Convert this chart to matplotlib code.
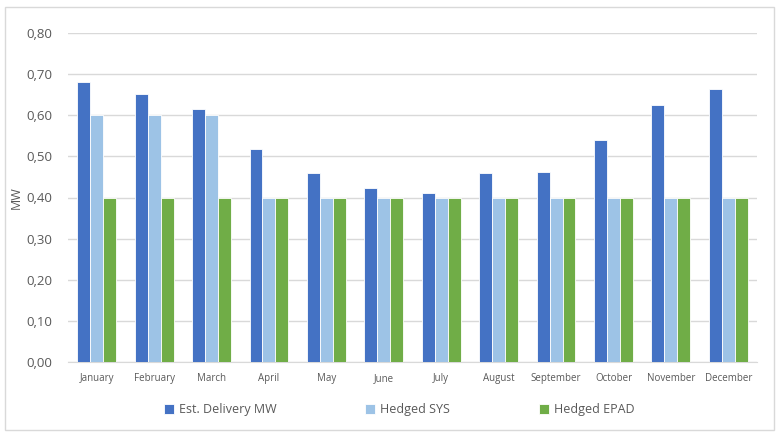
import matplotlib
matplotlib.use("Agg")
import matplotlib.pyplot as plt
import numpy as np
from matplotlib.patches import Rectangle
from matplotlib.ticker import FuncFormatter

months = ["January", "February", "March", "April", "May", "June", "July",
          "August", "September", "October", "November", "December"]
est_delivery = [0.681, 0.652, 0.614, 0.517, 0.459, 0.423, 0.412, 0.459, 0.461, 0.541, 0.625, 0.664]
hedged_sys = [0.60, 0.60, 0.60, 0.40, 0.40, 0.40, 0.40, 0.40, 0.40, 0.40, 0.40, 0.40]
hedged_epad = [0.40] * 12
series_names = ["Est. Delivery MW", "Hedged SYS", "Hedged EPAD"]
colors = ["#4472C4", "#9DC3E6", "#70AD47"]

plt.rcParams['font.family'] = ['Open Sans', 'DejaVu Sans']
text_color = "#595959"

fig = plt.figure(figsize=(7.79, 4.33), dpi=100)
W, H = 779, 433
ax = fig.add_axes([68 / W, 1 - 362 / H, (757 - 68) / W, (362 - 33) / H])

x = np.arange(len(months))
bw = 0.225
for i, (vals, name, c) in enumerate(zip([est_delivery, hedged_sys, hedged_epad], series_names, colors)):
    ax.bar(x + (i - 1) * bw, vals, width=bw, color=c, label=name,
           edgecolor="white", linewidth=0.6, zorder=3)

ax.set_xlim(-0.5, 11.5)
ax.set_ylim(0, 0.8)
ax.set_yticks(np.arange(0, 0.81, 0.1))
ax.yaxis.set_major_formatter(FuncFormatter(lambda v, p: f"{v:.2f}".replace(".", ",")))
ax.set_xticks(x)
ax.set_xticklabels(months, fontsize=7, color=text_color)
ax.tick_params(axis='y', labelsize=9.5, labelcolor=text_color, length=0, pad=11)
ax.tick_params(axis='x', length=0, pad=8)
ax.grid(axis='y', color="#D9D9D9", linewidth=1, zorder=0)
for s in ["top", "right", "left"]:
    ax.spines[s].set_visible(False)
ax.spines["bottom"].set_color("#D9D9D9")
ax.set_ylabel("MW", fontsize=9, color=text_color)
ax.yaxis.set_label_coords((23 - 68) / (757 - 68), 0.5)

leg = fig.legend(loc="center", bbox_to_anchor=(399 / W, 1 - 410 / H), ncol=3, frameon=False,
                 fontsize=9, handlelength=0.8, handleheight=0.8, handletextpad=0.4,
                 columnspacing=7.1)
for t in leg.get_texts():
    t.set_color(text_color)

fig.patches.append(Rectangle((5 / W, 3 / H), (774 - 5) / W, (426 - 3) / H,
                             transform=fig.transFigure, fill=False,
                             edgecolor="#D9D9D9", linewidth=1))

fig.savefig("out.png", dpi=100, facecolor="white")
